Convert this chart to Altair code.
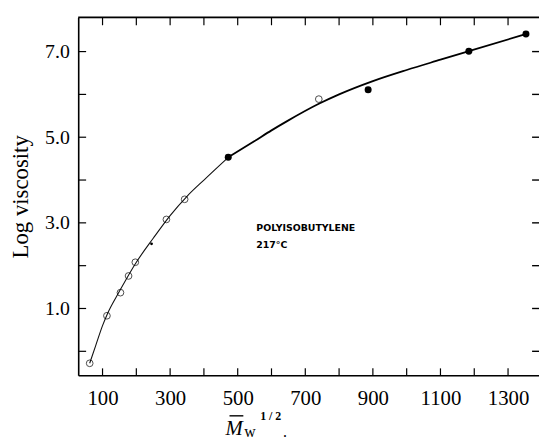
import altair as alt
import pandas as pd

# ---- data ----
open_x = [62, 113, 153, 177, 197, 289, 343, 740]
open_y = [-0.28, 0.83, 1.37, 1.76, 2.08, 3.08, 3.55, 5.89]
filled_x = [472, 886, 1184, 1353]
filled_y = [4.53, 6.11, 7.01, 7.41]
dot_x = [245]
dot_y = [2.51]
curve_x = [62, 80, 100, 113, 150, 200, 250, 300, 350, 400, 472, 550, 600, 645,
           740, 800, 900, 1000, 1100, 1184, 1353]
curve_y = [-0.28, 0.14, 0.60, 0.85, 1.40, 2.08, 2.64, 3.17, 3.62, 4.00, 4.53, 4.91,
           5.16, 5.37, 5.78, 6.00, 6.31, 6.57, 6.81, 7.01, 7.41]
x_ticks = list(range(100, 1400, 100))
x_labels = [100, 300, 500, 700, 900, 1100, 1300]
y_ticks = [0, 1, 2, 3, 4, 5, 6, 7]
y_labels = [1, 3, 5, 7]
note_lines = ["POLYISOBUTYLENE", "217\u00b0C"]
note_x = [555, 555]
note_y = [2.89, 2.48]

W, H = 466, 362
SERIF = "Liberation Serif"
xs = alt.Scale(domain=[28, 1391.6], nice=False, zero=False)
ys = alt.Scale(domain=[-0.56, 7.80], nice=False, zero=False)

X_AX = alt.Axis(
    values=x_labels, format="d", ticks=False, grid=False, title=None,
    labelFont=SERIF, labelFontSize=21, labelColor="black", labelPadding=13,
    domainColor="black", domainWidth=1.6)
Y_AX = alt.Axis(
    values=y_labels, format=".1f", ticks=False, grid=False,
    title="Log viscosity", titleFont=SERIF, titleFontSize=23,
    titleFontWeight="normal", titleColor="black", titlePadding=12,
    labelFont=SERIF, labelFontSize=20, labelColor="black", labelPadding=9,
    domainColor="black", domainWidth=1.6)


def X(f):
    return alt.X(f, scale=xs, axis=X_AX)


def Y(f):
    return alt.Y(f, scale=ys, axis=Y_AX)


curve_df = pd.DataFrame({"x": curve_x, "y": curve_y})
open_df = pd.DataFrame({"x": open_x, "y": open_y})
filled_df = pd.DataFrame({"x": filled_x, "y": filled_y})
dot_df = pd.DataFrame({"x": dot_x, "y": dot_y})
xt_df = pd.DataFrame({"v": x_ticks})
yt_df = pd.DataFrame({"v": y_ticks})
note_df = pd.DataFrame({"t": note_lines, "x": note_x, "y": note_y})
one = pd.DataFrame({"a": [0]})

# thin left branch, heavier right branch (as in the print)
curve_left = alt.Chart(curve_df).transform_filter("datum.x <= 472").mark_line(
    color="#111", strokeWidth=1.1, interpolate="monotone"
).encode(x=X("x:Q"), y=Y("y:Q"))
curve_right = alt.Chart(curve_df).transform_filter("datum.x >= 472").mark_line(
    color="black", strokeWidth=1.8, interpolate="monotone"
).encode(x=X("x:Q"), y=Y("y:Q"))

opens = alt.Chart(open_df).mark_point(
    shape="circle", filled=False, color="black", size=46, strokeWidth=1
).encode(x=X("x:Q"), y=Y("y:Q"))

filled = alt.Chart(filled_df).mark_point(
    shape="circle", filled=True, color="black", size=50, opacity=1
).encode(x=X("x:Q"), y=Y("y:Q"))

dots = alt.Chart(dot_df).mark_point(
    shape="circle", filled=True, color="black", size=8, opacity=1
).encode(x=X("x:Q"), y=Y("y:Q"))

bottom_ticks = alt.Chart(xt_df).mark_rule(color="black", strokeWidth=1.2).encode(
    x=X("v:Q"), y=alt.value(H), y2=alt.value(H - 7))
top_ticks = alt.Chart(xt_df).mark_rule(color="black", strokeWidth=1.2).encode(
    x=X("v:Q"), y=alt.value(0), y2=alt.value(8))
left_ticks = alt.Chart(yt_df).mark_rule(color="black", strokeWidth=1.2).encode(
    y=Y("v:Q"), x=alt.value(0), x2=alt.value(8))
right_ticks = alt.Chart(yt_df).mark_rule(color="black", strokeWidth=1.4).encode(
    y=Y("v:Q"), x=alt.value(W - 7), x2=alt.value(W))
top_line = alt.Chart(one).mark_rule(color="black", strokeWidth=1.8).encode(
    x=alt.value(0), x2=alt.value(W), y=alt.value(0))

notes = alt.Chart(note_df).mark_text(
    align="left", baseline="middle", font="DejaVu Sans", fontSize=9.5,
    fontWeight="bold", color="black"
).encode(x=X("x:Q"), y=Y("y:Q"), text="t:N")

# x-axis title pieces: M-bar, subscript w, superscript 1/2
t_m = alt.Chart(one).mark_text(align="left", baseline="alphabetic", font=SERIF,
                               fontSize=21, fontStyle="italic", color="black").encode(
    x=alt.value(149), y=alt.value(422), text=alt.value("M"))
t_bar = alt.Chart(one).mark_rule(color="black", strokeWidth=1.4).encode(
    x=alt.value(153), x2=alt.value(167), y=alt.value(403))
t_w = alt.Chart(one).mark_text(align="left", baseline="alphabetic", font=SERIF,
                               fontSize=16, color="black").encode(
    x=alt.value(168), y=alt.value(424), text=alt.value("w"))
t_sup = alt.Chart(one).mark_text(align="left", baseline="alphabetic", font=SERIF,
                                 fontSize=12, fontWeight="bold", color="black").encode(
    x=alt.value(184), y=alt.value(407), text=alt.value("1 / 2"))
t_dot = alt.Chart(one).mark_text(align="left", baseline="alphabetic", font=SERIF,
                                 fontSize=16, color="black").encode(
    x=alt.value(207), y=alt.value(424), text=alt.value("."))

chart = alt.layer(
    curve_left, curve_right, opens, filled, dots, bottom_ticks, top_ticks,
    left_ticks, right_ticks, top_line, notes, t_m, t_bar, t_w, t_sup, t_dot
).properties(
    width=W, height=H,
    autosize=alt.AutoSizeParams(type="none"),
    padding={"left": 71, "top": 7, "right": 0, "bottom": 62},
).configure_view(stroke=None).configure(background="white")

chart.save("out.html", embed_options={"renderer": "svg", "actions": False})
